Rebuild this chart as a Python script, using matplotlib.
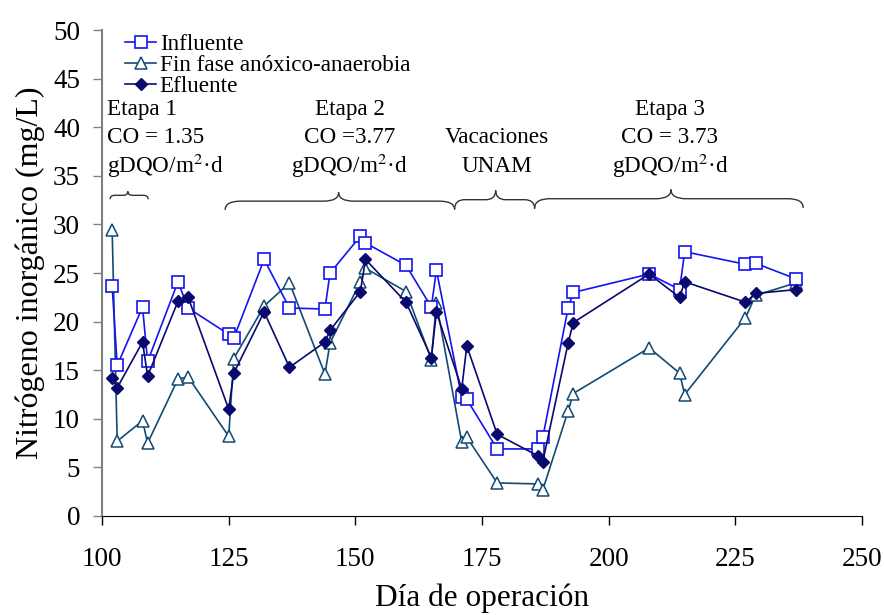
import matplotlib
matplotlib.use("Agg")
import matplotlib.pyplot as plt
from matplotlib.path import Path
from matplotlib.patches import PathPatch

plt.rcParams['font.family'] = ['Liberation Serif', 'DejaVu Serif']
plt.rcParams['mathtext.fontset'] = 'stix'

dias = [102, 103, 108, 109, 115, 117, 125, 126, 132, 137, 144, 145, 151, 152,
        160, 165, 166, 171, 172, 178, 186, 187, 192, 193, 208, 214, 215, 227, 229, 237]
influente = [23.7, 15.5, 21.5, 15.9, 24.1, 21.4, 18.7, 18.3, 26.4, 21.4, 21.3, 25.0, 28.8, 28.1,
             25.8, 21.5, 25.3, 12.2, 12.0, 6.9, 6.9, 8.1, 21.4, 23.0, 24.9, 23.3, 27.2, 25.9, 26.0, 24.4]
fin_fase = [29.4, 7.7, 9.8, 7.5, 14.1, 14.3, 8.2, 16.2, 21.6, 24.0, 14.6, 17.8, 24.1, 25.5,
            23.1, 16.1, 21.9, 7.6, 8.1, 3.4, 3.3, 2.7, 10.8, 12.6, 17.3, 14.7, 12.5, 20.4, 22.7, 24.0]
efluente = [14.2, 13.2, 17.9, 14.4, 22.1, 22.5, 11.0, 14.7, 21.0, 15.3, 17.9, 19.1, 23.1, 26.4,
            22.0, 16.3, 21.0, 13.1, 17.5, 8.4, 6.2, 5.6, 17.8, 19.9, 24.9, 22.5, 24.1, 22.0, 22.9, 23.3]

fig = plt.figure(figsize=(8.84, 6.15), dpi=100)
ax = fig.add_axes([0.1154, 0.161, 0.8597, 0.790])

c_inf = '#1414F0'
c_fin = '#134A72'
c_efl = '#0A0A6E'

ax.plot(dias, influente, '-s', color=c_inf, mfc='white', mec=c_inf, ms=8.5, lw=1.2,
        mew=1.2, label='Influente', zorder=3)
ax.plot(dias, fin_fase, '-^', color=c_fin, mfc='white', mec=c_fin, ms=9, lw=1.2,
        mew=1.1, label='Fin fase anóxico-anaerobia', zorder=2)
ax.plot(dias, efluente, '-D', color=c_efl, mfc=c_efl, mec=c_efl, ms=6.5, lw=1.2,
        label='Efluente', zorder=4)

ax.set_xlim(100, 250)
ax.set_ylim(0, 50)
ax.set_xticks(range(100, 251, 25))
ax.set_yticks(range(0, 51, 5))
ax.tick_params(axis='both', labelsize=19.5, direction='out', length=6.3, width=1)
ax.tick_params(axis='x', pad=16)
ax.tick_params(axis='y', pad=9.5, color='#808080')
ax.spines['top'].set_visible(False)
ax.spines['right'].set_visible(False)
ax.spines['left'].set_color('#808080')
ax.spines['left'].set_linewidth(1.5)
ax.set_xlabel('Día de operación', fontsize=22.5)
ax.set_ylabel('Nitrógeno inorgánico (mg/L)', fontsize=23)
ax.xaxis.label.set_va('center')
ax.yaxis.label.set_va('center')
ax.xaxis.set_label_coords(0.5, -0.170)
ax.yaxis.set_label_coords(-0.095, 0.5)

leg = ax.legend(loc='upper left', bbox_to_anchor=(0.018, 1.012), frameon=False,
                fontsize=16.7, handlelength=1.35, handletextpad=0.15,
                labelspacing=0.0, borderaxespad=0)

def brace(x0, x1, y_end, y_tip, xm=None):
    if xm is None:
        xm = (x0 + x1) / 2
    ymid = (y_end + y_tip) / 2
    w = min(3.0, (x1 - x0) / 8)
    verts = [(x0, y_end), (x0, ymid), (x0 + w, ymid),
             (xm - w, ymid), (xm, ymid), (xm, y_tip),
             (xm, ymid), (xm + w, ymid),
             (x1 - w, ymid), (x1, ymid), (x1, y_end)]
    codes = [Path.MOVETO, Path.CURVE3, Path.CURVE3,
             Path.LINETO, Path.CURVE3, Path.CURVE3,
             Path.CURVE3, Path.CURVE3,
             Path.LINETO, Path.CURVE3, Path.CURVE3]
    ax.add_patch(PathPatch(Path(verts, codes), fill=False, lw=1.0, color='#333333',
                           clip_on=False))

brace(101.6, 109.1, 32.6, 33.4, xm=105.1)
brace(124.3, 169.6, 31.5, 33.3, xm=146.7)
brace(169.6, 185.4, 31.6, 33.5, xm=177.7)
brace(185.4, 238.4, 31.7, 33.6, xm=212.3)

fs = 16.7
unit = r'gDQO/m$^{2}$·d'
y1, y2, y3 = 41.8, 39.0, 36.0
ax.text(101.0, y1, 'Etapa 1', fontsize=fs, ha='left', va='center')
ax.text(101.0, y2, 'CO = 1.35', fontsize=fs, ha='left', va='center')
ax.text(101.0, y3, unit, fontsize=fs, ha='left', va='center')
ax.text(148.9, y1, 'Etapa 2', fontsize=fs, ha='center', va='center')
ax.text(148.9, y2, 'CO =3.77', fontsize=fs, ha='center', va='center')
ax.text(148.9, y3, unit, fontsize=fs, ha='center', va='center')
ax.text(177.9, y2, 'Vacaciones', fontsize=fs, ha='center', va='center')
ax.text(177.9, y3, 'UNAM', fontsize=fs, ha='center', va='center')
ax.text(212.1, y1, 'Etapa 3', fontsize=fs, ha='center', va='center')
ax.text(212.1, y2, 'CO = 3.73', fontsize=fs, ha='center', va='center')
ax.text(212.1, y3, unit, fontsize=fs, ha='center', va='center')

fig.savefig('out.png', dpi=100)
